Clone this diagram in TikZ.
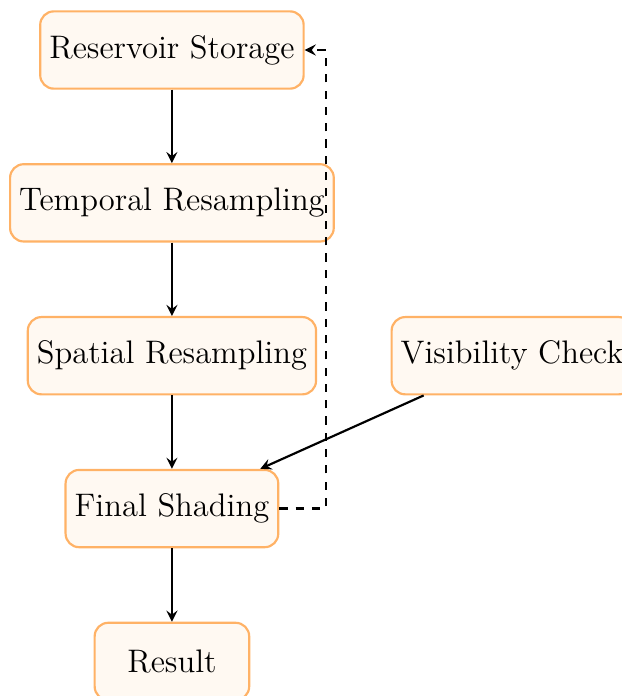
\documentclass[tikz,border=0pt]{standalone}
\usepackage{tikz}
\usetikzlibrary{positioning}
\usetikzlibrary{arrows}

\begin{document}
\begin{tikzpicture}[
    block/.style={draw=orange!60, fill=orange!5, thick, rounded corners=5pt,
      minimum height=1cm, minimum width=2cm, font=\large},
    flow/.style={->, >=stealth, thick},
    node distance=0.95cm
  ]
  \useasboundingbox (-2.225,0.647) rectangle (5.82,-8.36);
  \node[block] (storage) at (0,0) {Reservoir Storage};
  \node[block, below=of storage] (temporal) {Temporal Resampling};
  \node[block, below=of temporal] (spatial) {Spatial Resampling};
  \node[block, right=of spatial] (visibility) {Visibility Check};
  \node[block, below=of spatial] (shading) {Final Shading};
  \node[block, below=of shading] (result) {Result};
  \draw[flow] (storage) -- (temporal);
  \draw[flow] (temporal) -- (spatial);
  \draw[flow] (spatial) -- (shading);
  \draw[flow] (visibility) -- (shading);
  \draw[flow] (shading) -- (result);
  \draw[flow, dashed] (shading.east) -- ++(0.6,0) |- (storage.east);
\end{tikzpicture}
\end{document}
